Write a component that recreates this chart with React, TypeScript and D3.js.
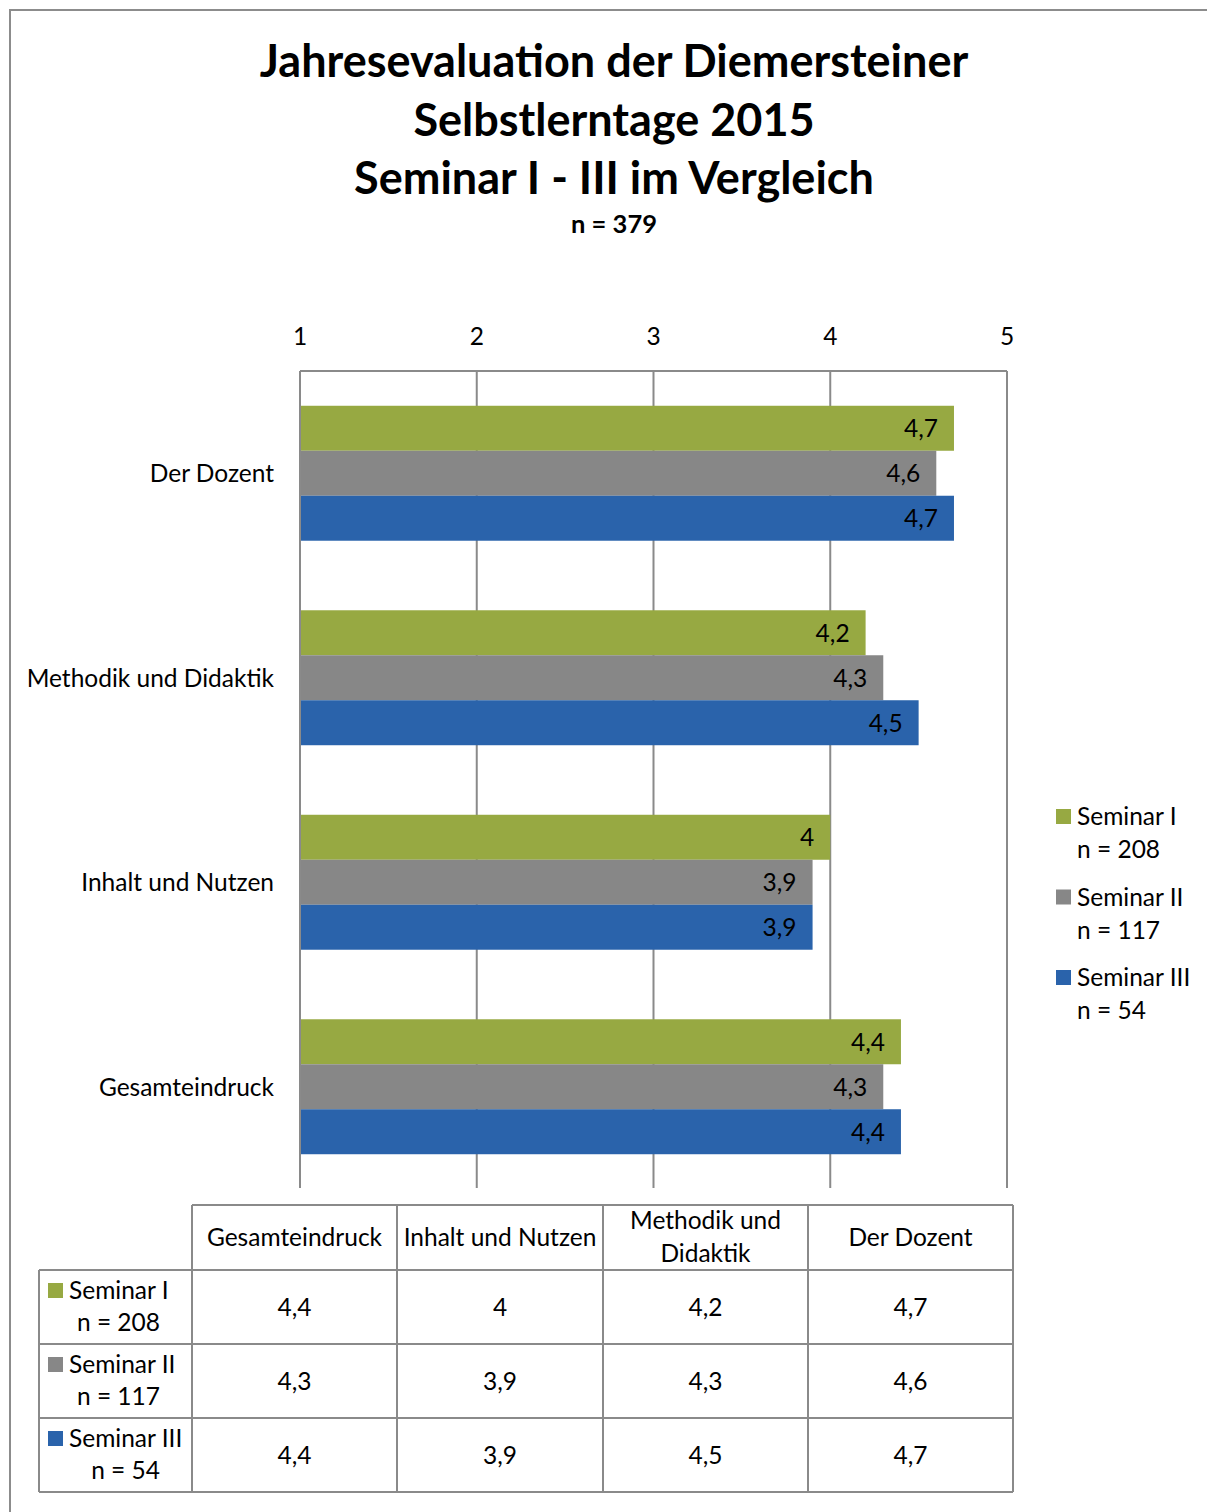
import React from "react";
import * as d3 from "d3";

const categories = ["Der Dozent", "Methodik und Didaktik", "Inhalt und Nutzen", "Gesamteindruck"];
const tableCategories = ["Gesamteindruck", "Inhalt und Nutzen", "Methodik und Didaktik", "Der Dozent"];
const seriesNames = ["Seminar I", "Seminar II", "Seminar III"];
const seriesN = ["n = 208", "n = 117", "n = 54"];
const seriesColors = ["#97A942", "#878787", "#2A63AB"];
// values per series, in order of `categories`
const seminar1 = [4.7, 4.2, 4.0, 4.4];
const seminar2 = [4.6, 4.3, 3.9, 4.3];
const seminar3 = [4.7, 4.5, 3.9, 4.4];
const seriesValues = [seminar1, seminar2, seminar3];
const ticks = [1, 2, 3, 4, 5];
const titleLines = ["Jahresevaluation der Diemersteiner", "Selbstlerntage 2015", "Seminar I - III im Vergleich"];
const subtitle = "n = 379";

const FONT = "Lato, 'Open Sans', sans-serif";
const FS = 24.5;
const fmt = (v: number) => String(v).replace(".", ",");

export default function App() {
  if (typeof document !== "undefined") document.body.style.margin = "0";
  const W = 1207, H = 1512;
  const x = d3.scaleLinear().domain([1, 5]).range([300, 1007]);
  const y = d3.scaleBand<string>().domain(categories).range([371, 1189]).paddingInner(0.34).paddingOuter(0.17);
  const ys = d3.scaleBand<string>().domain(seriesNames).range([0, y.bandwidth()]);
  const gridColor = "#8a8a8a";

  // table geometry
  const colX = [192, 397, 603, 808, 1013];
  const rowY = [1205, 1270, 1344, 1418, 1492];
  const tLeft = 39;

  return (
    <svg width={W} height={H} style={{ display: "block", fontFamily: FONT }}>
      <rect x={0} y={0} width={W} height={H} fill="#fff" />
      {/* outer chart border */}
      <path d={`M10,${H} L10,10 L${W},10`} fill="none" stroke="#8c8c8c" strokeWidth={2} />

      {/* title */}
      {titleLines.map((t, i) => (
        <text key={i} x={614} y={77 + i * 58.5} textAnchor="middle" fontSize={45} fontWeight="bold" fill="#000">
          {t}
        </text>
      ))}
      <text x={614} y={233} textAnchor="middle" fontSize={25.5} fontWeight="bold" fill="#000">
        {subtitle}
      </text>

      {/* grid */}
      {ticks.map((t) => (
        <line key={t} x1={x(t)} x2={x(t)} y1={371} y2={1188} stroke={gridColor} strokeWidth={2} />
      ))}
      <line x1={x(1)} x2={x(5)} y1={371} y2={371} stroke={gridColor} strokeWidth={2} />
      {ticks.map((t) => (
        <text key={"t" + t} x={x(t)} y={345} textAnchor="middle" fontSize={FS} fill="#000">
          {t}
        </text>
      ))}

      {/* bars */}
      {categories.map((c, ci) => (
        <g key={c}>
          {seriesNames.map((s, si) => {
            const v = seriesValues[si][ci];
            const by = (y(c) as number) + (ys(s) as number);
            return (
              <g key={s}>
                <rect x={x(1)} y={by} width={x(v) - x(1)} height={ys.bandwidth()} fill={seriesColors[si]} />
                <text x={x(v) - 16} y={by + ys.bandwidth() / 2 + 9} textAnchor="end" fontSize={FS} fill="#000">
                  {fmt(v)}
                </text>
              </g>
            );
          })}
          <text x={274} y={(y(c) as number) + y.bandwidth() / 2 + 9} textAnchor="end" fontSize={FS} fill="#000">
            {c}
          </text>
        </g>
      ))}
      <line x1={x(1)} x2={x(1)} y1={371} y2={1188} stroke={gridColor} strokeWidth={2} />

      {/* legend */}
      {seriesNames.map((s, i) => (
        <g key={s} transform={`translate(1056, ${809 + i * 80.5})`}>
          <rect x={0} y={0} width={15} height={15} fill={seriesColors[i]} />
          <text x={21} y={16} fontSize={FS} fill="#000">{s}</text>
          <text x={21} y={49} fontSize={FS} fill="#000">{seriesN[i]}</text>
        </g>
      ))}

      {/* data table */}
      <g stroke={gridColor} strokeWidth={2} fill="none">
        <line x1={colX[0]} x2={colX[4]} y1={rowY[0]} y2={rowY[0]} />
        {rowY.slice(1).map((ry, i) => (
          <line key={i} x1={tLeft} x2={colX[4]} y1={ry} y2={ry} />
        ))}
        <line x1={tLeft} x2={tLeft} y1={rowY[1]} y2={rowY[4]} />
        {colX.map((cx, i) => (
          <line key={"v" + i} x1={cx} x2={cx} y1={rowY[0]} y2={rowY[4]} />
        ))}
      </g>
      {tableCategories.map((c, i) => {
        const cx = (colX[i] + colX[i + 1]) / 2;
        const lines = c === "Methodik und Didaktik" ? ["Methodik und", "Didaktik"] : [c];
        const mid = (rowY[0] + rowY[1]) / 2;
        return lines.map((l, li) => (
          <text key={c + li} x={cx} y={mid + 8 + (li - (lines.length - 1) / 2) * 33} textAnchor="middle" fontSize={FS} fill="#000">
            {l}
          </text>
        ));
      })}
      {seriesNames.map((s, si) => {
        const top = rowY[si + 1], bot = rowY[si + 2];
        const mid = (top + bot) / 2;
        return (
          <g key={s}>
            <rect x={48} y={mid - 24} width={15} height={15} fill={seriesColors[si]} />
            <text x={69} y={mid - 8} fontSize={FS} fill="#000">{s}</text>
            <text x={160} y={mid + 24} textAnchor="end" fontSize={FS} fill="#000">{seriesN[si]}</text>
            {tableCategories.map((c, ci) => {
              const v = seriesValues[si][categories.indexOf(c)];
              return (
                <text key={c} x={(colX[ci] + colX[ci + 1]) / 2} y={mid + 9} textAnchor="middle" fontSize={FS} fill="#000">
                  {fmt(v)}
                </text>
              );
            })}
          </g>
        );
      })}
    </svg>
  );
}
